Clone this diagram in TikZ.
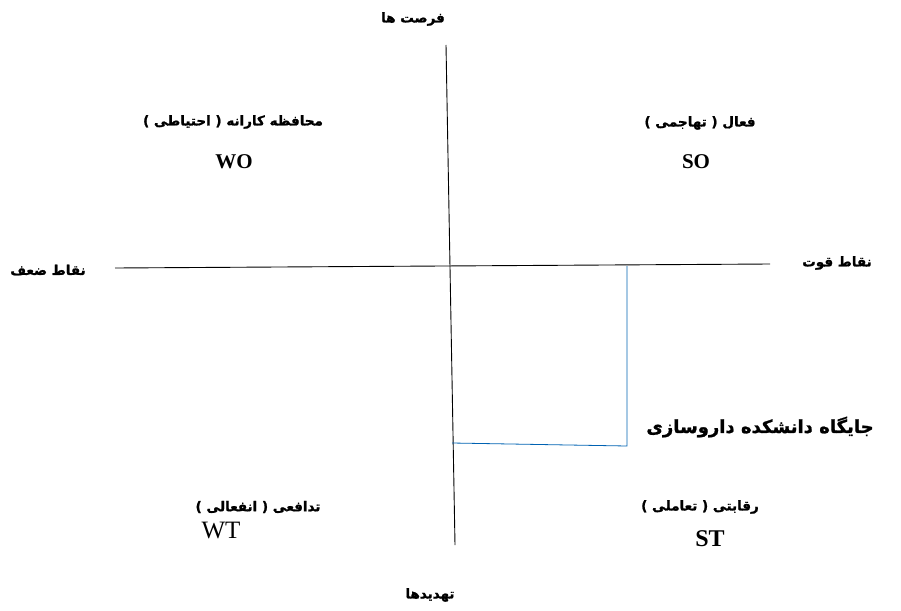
\documentclass[tikz,border=0pt]{standalone}
\usepackage{fontspec}
\setmainfont{Liberation Serif}
\newfontfamily\arabicfont[Script=Arabic,BoldFeatures={FakeBold=1.2}]{DejaVu Sans}
\TeXXeTstate=1
\tikzset{
  fa/.style={font=\arabicfont\bfseries\fontsize{13.5}{15}\selectfont, inner sep=0pt},
  fabig/.style={font=\arabicfont\bfseries\fontsize{18}{21}\selectfont, inner sep=0pt},
  code/.style={font=\bfseries\fontsize{21}{23}\selectfont, inner sep=0pt},
  codebig/.style={font=\bfseries\fontsize{24}{26}\selectfont, inner sep=0pt},
  coderegular/.style={font=\fontsize{25}{27}\selectfont, inner sep=0pt},
  axisline/.style={draw=black, line width=0.9pt},
  posline/.style={draw=blue!45!cyan!70!black, line width=0.8pt}
}
\begin{document}
\begin{tikzpicture}[x=1pt,y=-1pt]
\useasboundingbox (0,0) rectangle (901,610);
% axes
\coordinate (vtop) at (446,45);
\coordinate (vbot) at (455,545);
\coordinate (hleft) at (115,268);
\coordinate (hright) at (770,264);
\draw[axisline] (vtop) -- (vbot);
\draw[axisline] (hleft) -- (hright);
% position rectangle
\coordinate (r1) at (627,266);
\coordinate (r2) at (627,446);
\coordinate (r3) at (452,443);
\draw[posline] (r1) -- (r2) -- (r3);
% labels
\node[fa] (opp) at (413,19) {\beginR فرصت ها\endR};
\node[fa] (thr) at (430,595) {\beginR تهدیدها\endR};
\node[fa] (weak) at (48,270) {\beginR نقاط ضعف\endR};
\node[fa] (str) at (837,263) {\beginR نقاط قوت\endR};
\node[fa] (wol) at (233,122) {\beginR محافظه کارانه ( احتیاطی )\endR};
\node[code] (wo) at (234,162) {WO};
\node[fa] (sol) at (700,123) {\beginR فعال ( تهاجمی )\endR};
\node[code] (so) at (696,162) {SO};
\node[fa] (wtl) at (258,507) {\beginR تدافعی ( انفعالی )\endR};
\node[coderegular] (wt) at (221,530) {WT};
\node[fa] (stl) at (700,507) {\beginR رقابتی ( تعاملی )\endR};
\node[codebig] (st) at (710,539) {ST};
\node[fabig] (pharm) at (760,427) {\beginR جایگاه دانشکده داروسازی\endR};
\end{tikzpicture}
\end{document}
